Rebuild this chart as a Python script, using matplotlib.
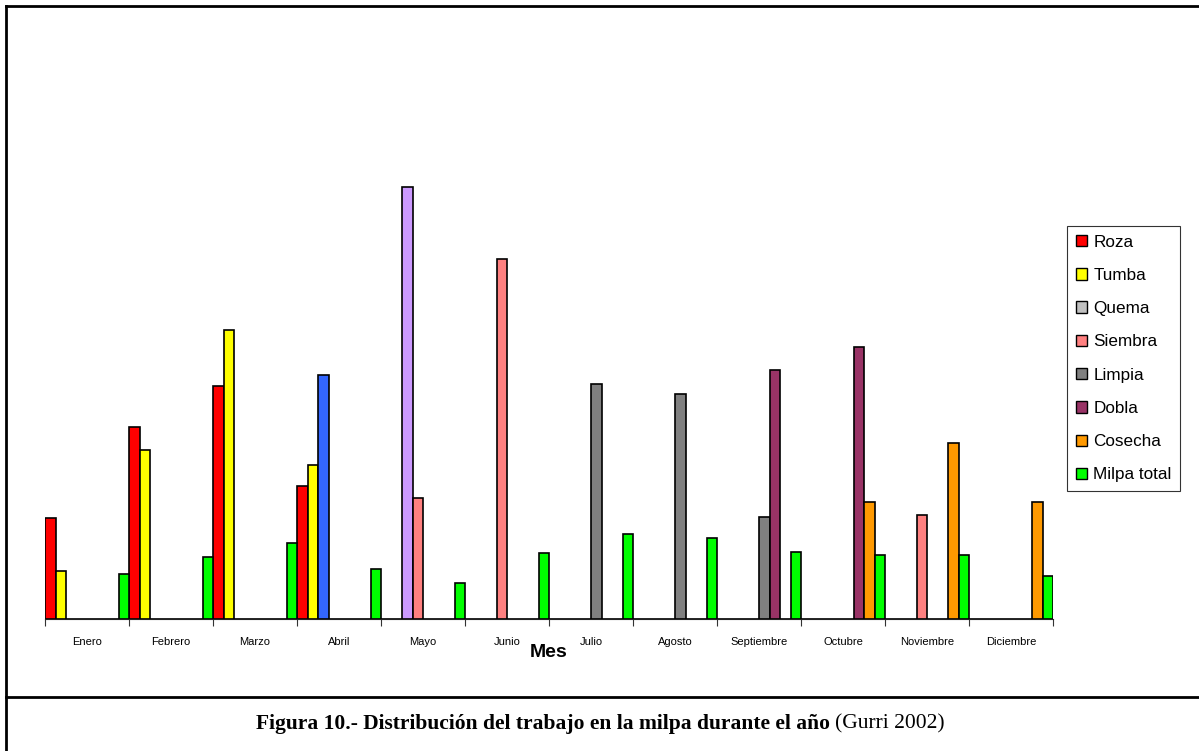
import numpy as np
import matplotlib.pyplot as plt
from matplotlib.patches import Patch
from matplotlib.lines import Line2D

# Datos (unidades relativas)
meses = ['Enero', 'Febrero', 'Marzo', 'Abril', 'Mayo', 'Junio', 'Julio',
         'Agosto', 'Septiembre', 'Octubre', 'Noviembre', 'Diciembre']
series = ['Roza', 'Tumba', 'Quema', 'Siembra', 'Limpia', 'Dobla', 'Cosecha', 'Milpa total']

roza = [101, 192, 233, 133, 0, 0, 0, 0, 0, 0, 0, 0]
tumba = [48, 169, 289, 154, 0, 0, 0, 0, 0, 0, 0, 0]
quema = [0, 0, 0, 244, 432, 0, 0, 0, 0, 0, 0, 0]
siembra = [0, 0, 0, 0, 121, 360, 0, 0, 0, 0, 104, 0]
limpia = [0, 0, 0, 0, 0, 0, 235, 225, 102, 0, 0, 0]
dobla = [0, 0, 0, 0, 0, 0, 0, 0, 249, 272, 0, 0]
cosecha = [0, 0, 0, 0, 0, 0, 0, 0, 0, 117, 176, 117]
milpa = [45, 62, 76, 50, 36, 66, 85, 81, 67, 64, 64, 43]

colores = ['#FF0000', '#FFFF00', '#C0C0C0', '#FF8080', '#808080', '#993366', '#FF9900', '#00FF00']
# colores especiales de la quema en abril y mayo
quema_col = ['#C0C0C0'] * 12
quema_col[3] = '#3366FF'
quema_col[4] = '#CC99FF'

datos = [roza, tumba, quema, siembra, limpia, dobla, cosecha, milpa]

W, H = 1199, 751
fig = plt.figure(figsize=(W / 100, H / 100), dpi=100)
ax = fig.add_axes([45 / W, (H - 619) / H, (1053 - 45) / W, (619 - 30) / H])

n = len(series)
bw = 1.0 / n
x = np.arange(len(meses))
for j, vals in enumerate(datos):
    col = quema_col if j == 2 else colores[j]
    ax.bar(x + j * bw, vals, width=bw, align='edge', color=col,
           edgecolor='black', linewidth=1.2)

ax.set_xlim(0, 12)
ax.set_ylim(0, 589)
for s in ['top', 'right', 'left']:
    ax.spines[s].set_visible(False)
ax.spines['bottom'].set_color('#222222')
ax.set_yticks([])

ax.set_xticks(x + 0.5)
ax.set_xticklabels(meses, fontsize=8, family='Liberation Sans')
ax.tick_params(axis='x', which='major', length=0, pad=13)
ax.set_xticks(np.arange(13), minor=True)
ax.tick_params(axis='x', which='minor', length=5, width=0.8, color='#333333')

ax.set_xlabel('Mes', fontsize=14, fontweight='bold', family='Liberation Sans', labelpad=-2)

handles = [Patch(facecolor=c, edgecolor='black', linewidth=1.0) for c in colores]
leg = fig.legend(handles, series, loc='upper left', bbox_to_anchor=(1067 / W, 1 - 226 / H),
                 prop={'family': 'Liberation Sans', 'size': 12.3}, frameon=True, fancybox=False,
                 handlelength=0.65, handleheight=0.65, handletextpad=0.4, labelspacing=1.07,
                 borderpad=0.5, borderaxespad=0)
leg.get_frame().set_edgecolor('black')
leg.get_frame().set_linewidth(0.8)

# marco de la figura
fig.add_artist(Line2D([6 / W, 6 / W], [0, 1 - 6 / H], color='black', lw=2))
fig.add_artist(Line2D([6 / W, 1], [1 - 6 / H, 1 - 6 / H], color='black', lw=2))
fig.add_artist(Line2D([6 / W, 1], [1 - 697 / H, 1 - 697 / H], color='black', lw=2))

t1 = fig.text(0, 0, 'Figura 10.- Distribución del trabajo en la milpa durante el año ',
              fontsize=15.5, fontweight='bold', family='Liberation Serif', va='center')
t2 = fig.text(0, 0, '(Gurri 2002)', fontsize=15.5, family='Liberation Serif', va='center')
fig.canvas.draw()
r = fig.canvas.get_renderer()
w1 = t1.get_window_extent(r).width
w2 = t2.get_window_extent(r).width
x0 = 600 - (w1 + w2) / 2
t1.set_position((x0 / W, 1 - 724 / H))
t2.set_position(((x0 + w1) / W, 1 - 724 / H))

fig.savefig('out.png', dpi=100)
